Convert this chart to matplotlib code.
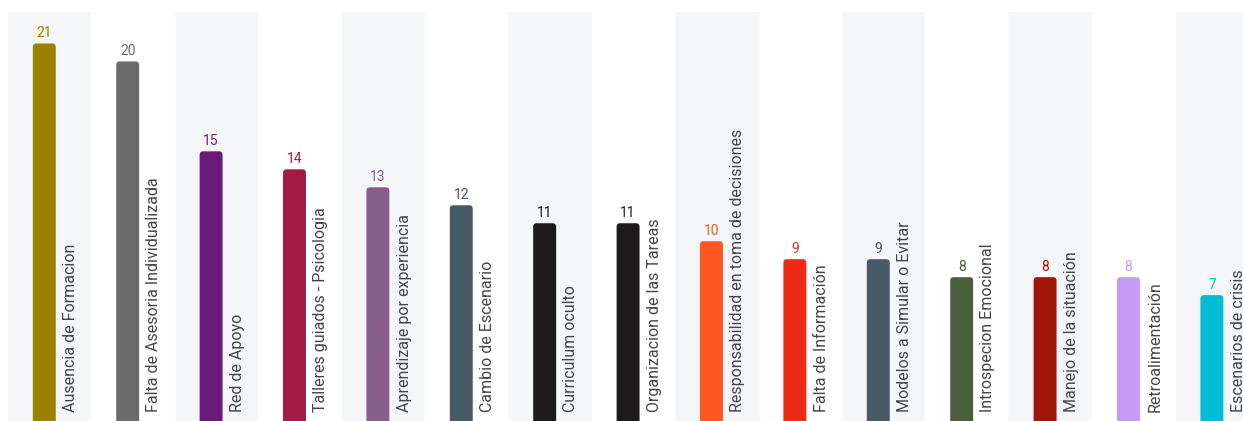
import matplotlib.pyplot as plt
from matplotlib.patches import FancyBboxPatch

categorias = [
    "Ausencia de Formacion",
    "Falta de Asesoria Individualizada",
    "Red de Apoyo",
    "Talleres guiados - Psicologia",
    "Aprendizaje por experiencia",
    "Cambio de Escenario",
    "Curriculum oculto",
    "Organizacion de las Tareas",
    "Responsabilidad en toma de decisiones",
    "Falta de Información",
    "Modelos a Simular o Evitar",
    "Introspecion Emocional",
    "Manejo de la situación",
    "Retroalimentación",
    "Escenarios de crisis",
]
valores = [21, 20, 15, 14, 13, 12, 11, 11, 10, 9, 9, 8, 8, 8, 7]
colores = [
    "#9c8100", "#6b6b6b", "#6a1b7a", "#a31a44", "#875e8a",
    "#455a64", "#1c1a1a", "#1c1a1a", "#fe5722", "#ee2a14",
    "#455a64", "#4b5e3e", "#a11408", "#c49cf5", "#00bcd4",
]

plt.rcParams['font.family'] = ['Roboto', 'DejaVu Sans']

W, H = 1243, 421
fig = plt.figure(figsize=(W / 100, H / 100), dpi=100)
# ejes: de x=8 px hasta el borde derecho, de y=12 px hasta abajo
ax = fig.add_axes([8 / W, 0, 1 - 8 / W, (H - 12) / H])

n = len(valores)
col_px = 83.4
ax.set_xlim(-0.5, -0.5 + (W - 8) / col_px)
ax.set_ylim(0, 22.75)

# franjas de fondo alternas
for i in range(0, n, 2):
    ax.axvspan(i - 0.5, i + 0.5, color="#f5f6f8", zorder=0, lw=0)

offset = -0.065
ancho = 0.275
bars = ax.bar([i + offset for i in range(n)], valores, width=ancho, color=colores)

# esquinas redondeadas
px_x = 1 / col_px
px_y = 22.75 / (H - 12)
for b, c in zip(bars, colores):
    x0, y0, w, h = b.get_x(), b.get_y(), b.get_width(), b.get_height()
    b.set_visible(False)
    r = 3.5 * px_x
    p = FancyBboxPatch((x0 + r, y0 - 1), w - 2 * r, h + 1 - r * px_y / px_x,
                       boxstyle=f"round,pad={r},rounding_size={r}",
                       mutation_aspect=px_y / px_x, fc=c, ec="none", zorder=2)
    ax.add_patch(p)

for i, (v, c, cat) in enumerate(zip(valores, colores, categorias)):
    ax.text(i + offset, v + 0.2, str(v), ha="center", va="bottom",
            fontsize=10, color=c, zorder=3)
    ax.text(i + 0.25, 0.5, cat, rotation=90, ha="center", va="bottom",
            fontsize=11.5, color="#444444", zorder=3)

ax.axis("off")
fig.savefig("out.png", dpi=100)
